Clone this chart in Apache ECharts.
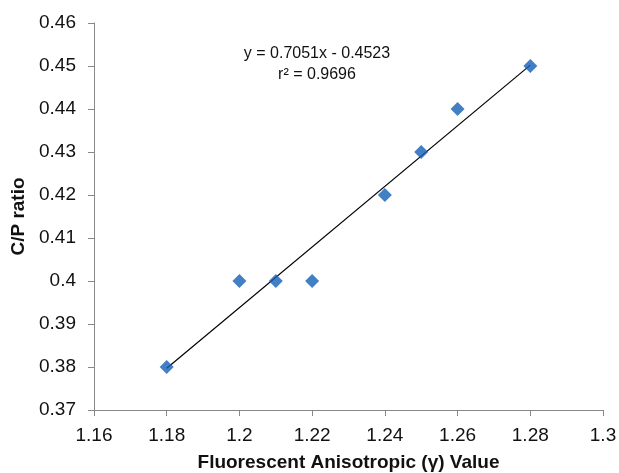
<!DOCTYPE html>
<html>
<head>
  <meta charset="UTF-8" />
  <script src="https://cdn.jsdelivr.net/npm/echarts@6/dist/echarts.min.js"></script>
  <style>
    body { margin: 0; background: #fff; }
    #chart { width: 619px; height: 473px; }
  </style>
</head>
<body>
  <div id="chart"></div>
  <script>
    // measured points
    const anisotropy = [1.18, 1.20, 1.21, 1.22, 1.24, 1.25, 1.26, 1.28];
    const cpRatio = [0.38, 0.40, 0.40, 0.40, 0.42, 0.43, 0.44, 0.45];
    // linear trendline ends (y = 0.7051x - 0.4523)
    const trendX = [1.18, 1.28];
    const trendY = [0.3797, 0.4502];
    const equationLines = ['y = 0.7051x - 0.4523', 'r² = 0.9696'];

    const font = 'Liberation Sans, Arial, sans-serif';
    const chart = echarts.init(document.getElementById('chart'));
    chart.setOption({
      animation: false,
      grid: { left: 94, right: 16, top: 23, bottom: 63, outerBoundsMode: 'none', containLabel: false },
      title: {
        text: equationLines.join('\n'),
        left: 312, top: 38,
        textAlign: 'center',
        textStyle: { fontFamily: font, fontSize: 16, fontWeight: 'normal', color: '#111', lineHeight: 21 }
      },
      xAxis: {
        type: 'value', min: 1.16, max: 1.3, interval: 0.02,
        name: 'Fluorescent Anisotropic (γ) Value',
        nameLocation: 'middle', nameGap: 43,
        nameTextStyle: { fontFamily: font, fontSize: 19, fontWeight: 'bold', color: '#111' },
        axisLine: { lineStyle: { color: '#888' } },
        axisTick: { show: true, length: 6, lineStyle: { color: '#888' } },
        splitLine: { show: false },
        axisLabel: { fontFamily: font, fontSize: 19, color: '#111', margin: 16,
          formatter: v => String(+v.toFixed(2)) }
      },
      yAxis: {
        type: 'value', min: 0.37, max: 0.46, interval: 0.01,
        name: 'C/P ratio',
        nameLocation: 'middle', nameGap: 63,
        nameTextStyle: { fontFamily: font, fontSize: 19, fontWeight: 'bold', color: '#111' },
        axisLine: { show: true, lineStyle: { color: '#888' } },
        axisTick: { show: true, length: 6, lineStyle: { color: '#888' } },
        splitLine: { show: false },
        axisLabel: { fontFamily: font, fontSize: 19, color: '#111', margin: 18,
          formatter: v => String(+v.toFixed(2)) }
      },
      series: [
        {
          type: 'line',
          data: trendX.map((x, i) => [x, trendY[i]]),
          symbol: 'none',
          lineStyle: { color: '#000', width: 1.2 },
          z: 1
        },
        {
          type: 'scatter',
          data: anisotropy.map((x, i) => [x, cpRatio[i]]),
          symbol: 'diamond',
          symbolSize: [14, 14],
          itemStyle: { color: '#135fb5' },
          z: 2
        }
      ]
    });
  </script>
</body>
</html>
